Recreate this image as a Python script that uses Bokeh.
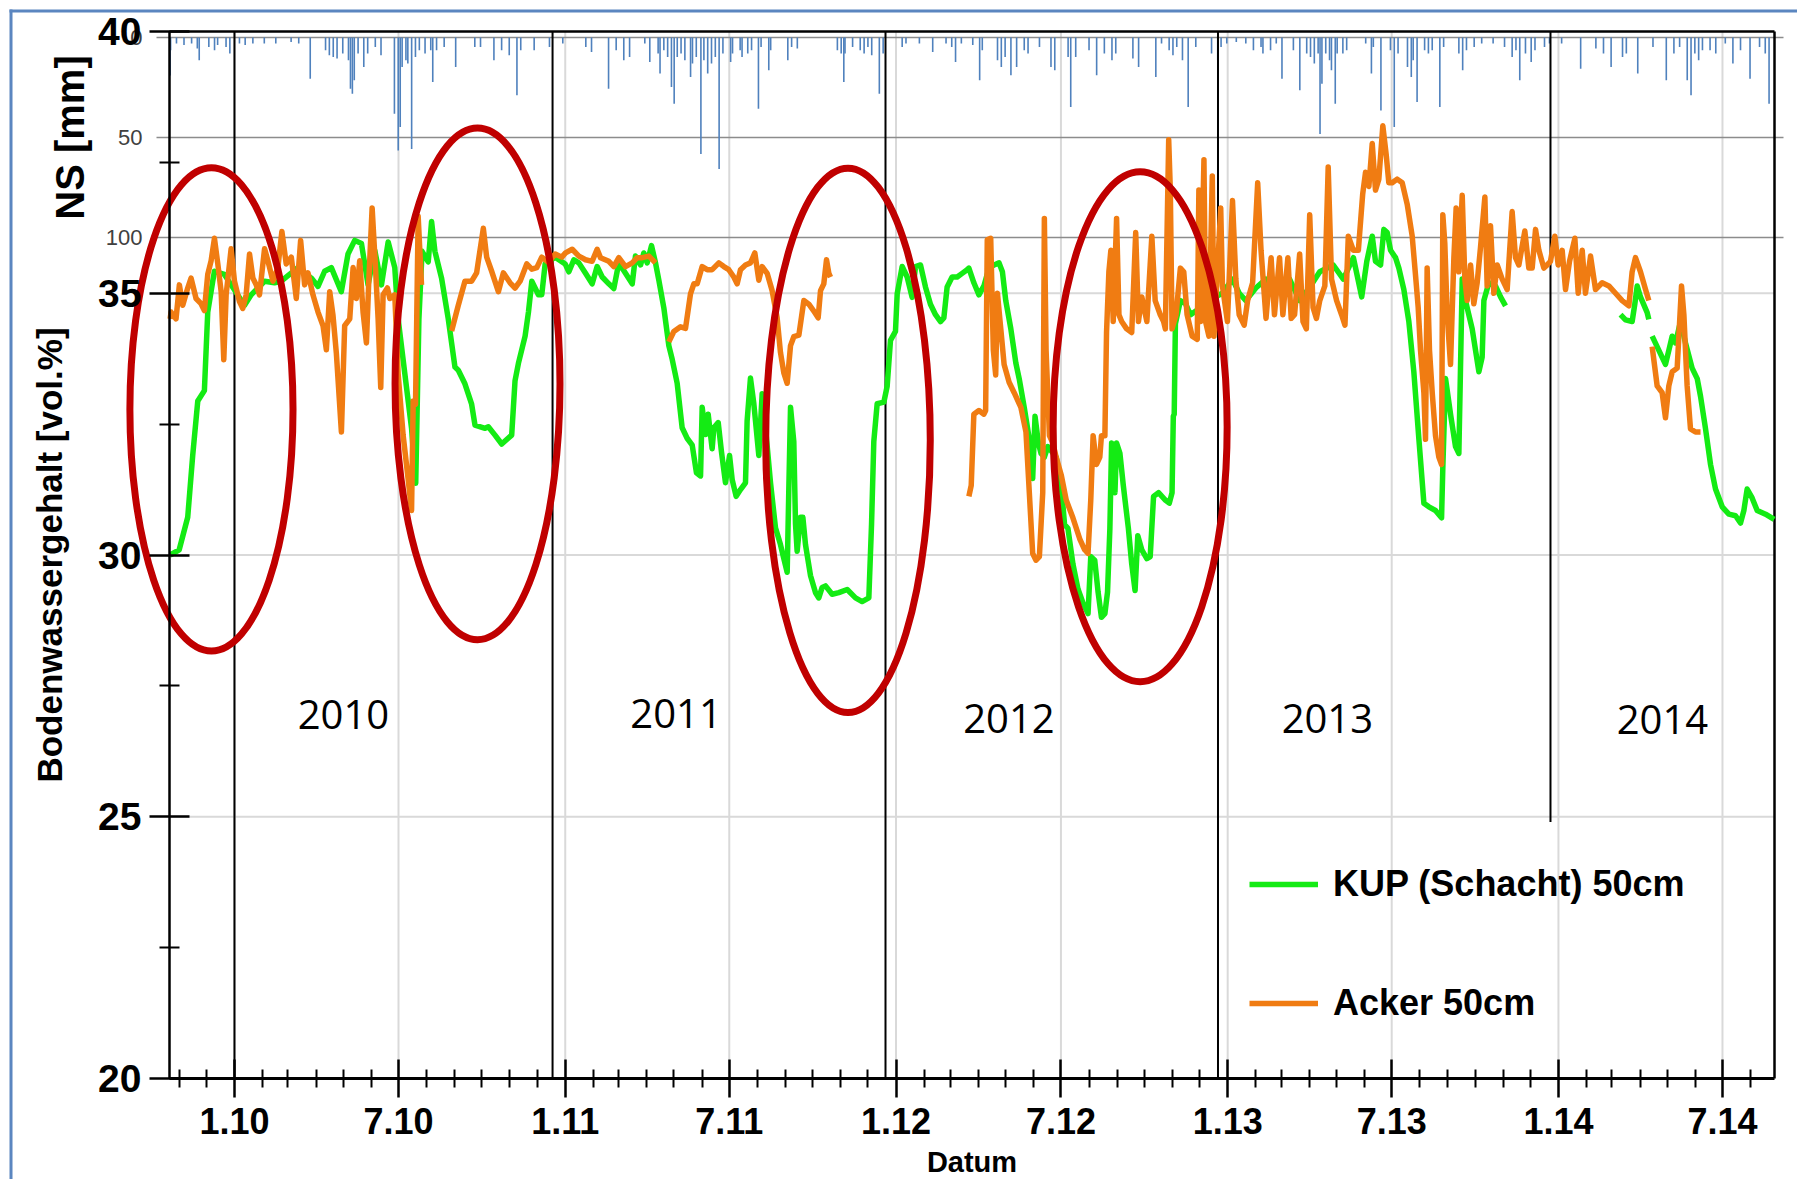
import math
import pandas as pd
from bokeh.plotting import figure
from bokeh.models import (Range1d, LinearAxis, FixedTicker, Legend, LegendItem, ColumnDataSource)
from bokeh.core.properties import value
from bokeh.embed import file_html
from bokeh.resources import INLINE

NaN = float("nan")
BASE = pd.Timestamp("2010-01-01")   # day 0 of all x values below

# ---------------- data (x = days since 2010-01-01) ----------------
kup_day = [-71, -61, -51.6, -46.1, -40.5, -33.2, -29.5, -24, -22.1, -11.1, -3.7, 11.1, 18.4, 33.2,
           44.2, 51.6, 70, 84.8, 92.2, 99.5, 106.9, 117.9, 125.3, 132.7, 140.1, 147.4, 154.8, 162.2,
           169.6, 176.9, 180.6, 188, 195.4, 200, 203.5, 207, 213.8, 217.5, 221.2, 228.5, 235.9,
           243.3, 247, 254.3, 261.7, 265.4, 276.5, 280.1, 287.5, 294.9, 305.9, 309.6, 313.3, 320.7,
           324.4, 328.1, 335.4, 339.1, 342.8, 353.9, 364.9, 369, 374.5, 380, 387.4, 394.7, 400.2,
           405.8, 413.1, 418.6, 424.1, 431.5, 438.9, 442.5, 448.1, 451.7, 455.4, 460.2, 464.6,
           468.3, 473.8, 479.3, 483, 488.5, 494, 499.5, 505.1, 509.8, 514.3, 516.1, 519.8, 522.7,
           527.1, 529, 533.8, 537.4, 541.8, 546.3, 549.2, 553.6, 558.4, 563.9, 565.7, 569.4, 573.1,
           578.6, 582.3, 586, 591.5, 597, 602.5, 606.2, 609.9, 611.7, 613.6, 617.2, 619.1, 620.9,
           624.6, 627.2, 630.1, 635.6, 641.2, 644.8, 648.5, 652.2, 659.5, 666.9, 676.1, 685.3,
           692.6, 700, 703, 705.5, 709.2, 716.6, 720.2, 723.9, 729.4, 731.3, 736.8, 742.3, 747.8,
           751.5, 757, 762.5, 768, 773.6, 779.1, 782.8, 786.4, 791.9, 797.5, 803, 808.5, 810.4,
           815.9, 821.5, 827, 832.6, 838.2, 843.7, 847.4, 851.1, 856.7, 862.2, 865.9, 871.5, 877.1,
           880.8, 883.4, 887.1, 890, 893.7, 897.5, 906.7, 912.3, 916, 919.7, 925.2, 930.8, 936.4,
           941.9, 944.9, 949.3, 953, 956.7, 960.5, 963.4, 966, 967.9, 971.6, 973.4, 977.1, 980.8,
           986.4, 990.1, 993.8, 996.8, 1001.2, 1006.8, 1010.5, 1014.2, 1019.7, 1027.2, 1031.6,
           1034.6, 1036, 1037, 1038.3, 1043.8, 1049.4, 1055, 1064, 1079, 1090, 1101.3, 1108.7,
           1116.1, 1127, 1138.3, 1153, 1164.3, 1175.4, 1186, 1197.6, 1212.5, 1223.6, 1234.7,
           1243.9, 1249.5, 1255.5, 1259.1, 1264.7, 1268.3, 1272, 1275.7, 1281.2, 1284.9, 1290.4,
           1295.9, 1301.4, 1307, 1312.5, 1318, 1325.3, 1332, 1333.4, 1336.4, 1341.9, 1347.4,
           1351.1, 1352.9, 1354.8, 1358.4, 1365.8, 1373.2, 1376.8, 1378.7, 1384.2, 1391.5, 1397.1,
           1402.6, 1466, 1529.5, 1535, 1542.3, 1545.3, 1547.9, 1551.5, 1558.9, 1560.7, 1562.5,
           1564.4, 1571.8, 1579.1, 1582.8, 1586.5, 1590.2, 1595.7, 1601.2, 1608.5, 1614.1, 1617.8,
           1623.3, 1628.8, 1634.3, 1641.7, 1649, 1656.4, 1661.9, 1665.6, 1669.2, 1674.7, 1680.3,
           1689.5, 1699]
kup_val = [30.0, 30.1, 30.72, 31.9, 32.94, 33.14, 34.64, 35.23, 35.42, 35.36, 35.16, 34.77, 34.97, 35.23,
           35.2, 35.23, 35.49, 35.29, 35.13, 35.42, 35.49, 35.03, 35.75, 36.01, 35.95, 35.16, 35.82, 35.16,
           35.98, 35.49, 34.51, 33.46, 32.42, 31.37, 34.5, 35.8, 35.6, 36.37, 35.8, 35.29, 34.51,
           33.59, 33.53, 33.27, 32.88, 32.48, 32.42, 32.45, 32.29, 32.12, 32.29, 33.33, 33.66, 34.18,
           34.64, 35.23, 34.97, 34.97, 35.56, 35.69, 35.56, 35.41, 35.64, 35.58, 35.38, 35.18, 35.51,
           35.31, 35.18, 35.09, 35.58, 35.38, 35.18, 35.71, 35.54, 35.77, 35.58, 35.91, 35.58,
           35.25, 34.72, 34.0, 33.74, 33.28, 32.43, 32.23, 32.1, 31.57, 31.51, 32.82, 32.3, 32.69,
           32.03, 32.43, 32.53, 31.97, 31.38, 31.9, 31.44, 31.12, 31.25, 31.38, 32.56, 33.38, 32.89,
           31.9, 33.08, 32.43, 31.38, 30.52, 30.2, 29.93, 29.67, 31.25, 32.82, 32.17, 30.59, 30.07,
           30.72, 30.72, 30.2, 29.61, 29.28, 29.18, 29.38, 29.41, 29.25, 29.28, 29.34, 29.18,
           29.11, 29.18, 30.59, 32.17, 32.89, 32.92, 33.22, 34.1, 34.27, 34.99, 35.51, 35.31, 34.92,
           35.51, 35.54, 35.12, 34.79, 34.59, 34.46, 34.53, 35.12, 35.31, 35.31, 35.38, 35.45, 35.48,
           35.2, 34.97, 35.14, 35.48, 35.54, 35.58, 35.41, 34.86, 34.32, 33.67, 33.37, 32.82, 32.21,
           31.46, 32.65, 32.14, 31.94, 31.87, 32.07, 31.87, 31.33, 30.58, 30.51, 29.83, 29.35, 29.08,
           28.88, 29.97, 29.9, 29.29, 28.81, 28.88, 29.29, 30.51, 32.14, 31.19, 32.14, 31.94, 31.33,
           30.51, 29.83, 29.32, 30.37, 30.1, 29.93, 29.97, 31.12, 31.19, 31.05, 30.99,
           31.19, 32.65, 32.69, 34.42, 34.86, 34.8, 34.59, 34.7, 34.9, 35.0, 35.27, 35.0,
           34.86, 35.1, 35.27, 35.1, 35.27, 34.86, 35.1, 35.41, 35.54, 35.27, 35.68,
           34.93, 35.61, 36.09, 35.61, 35.54, 36.22, 36.16, 35.82, 35.68, 35.48, 35.07,
           34.46, 33.5, 32.21, 30.99, 30.92, 30.85, 30.71, 31.67, 33.37, 32.69, 32.07,
           31.94, 33.57, 35.27, 34.86, 34.32, 33.5, 33.78, 34.86, 35.2, 35.14, 34.93,
           34.76, NaN, 34.59, 34.49, 34.46, 34.8, 35.14, 34.93, 34.63, 34.5, NaN,
           34.18, 33.91, 33.64, 33.91, 34.18, 34.05, 34.46, 34.05, 33.57, 33.37, 33.03,
           32.41, 31.73, 31.26, 30.92, 30.78, 30.75, 30.61, 30.85, 31.26, 31.09, 30.85,
           30.78, 30.68]

acker_day = [-71, -70, -64.5, -60.8, -57.1, -51.6, -47.9, -42.4, -36.9, -33.2, -29.5, -25.8, -22.1,
             -18.4, -14.7, -11.8, -9.2, -3.7, 0, 5.5, 9.2, 12.9, 16.6, 20.3, 24, 27.6, 33.2, 36.9,
             42.4, 47.9, 52.3, 57.1, 62.7, 68.2, 73, 77.4, 81.1, 86.6, 92.2, 97.7, 101.4, 105.1,
             108.7, 112.4, 118, 121.6, 127.2, 130.9, 134.5, 138.2, 141.9, 145.6, 148.2, 151.9,
             155.6, 158.5, 161.4, 164, 168.8, 171.4, 176.9, 180.6, 186.1, 191.7, 195.4, 197.2,
             199.8, 202.7, 206.4, 220, 239.6, 247, 254.3, 261.7, 267.2, 274.6, 278.3, 283.8, 291.2,
             296.7, 304.1, 309.6, 315.2, 322.5, 328.1, 333.6, 339.1, 346.5, 353.9, 361.2, 365.3,
             372.7, 380, 387.4, 394.7, 400.2, 403.9, 413.1, 418.6, 424.1, 431.5, 438.9, 444.4,
             449.9, 457.3, 464.6, 470, 479.3, 484.8, 492.2, 497.7, 503.2, 506.9, 510.6, 516.1,
             521.6, 527.1, 534.5, 540, 545.5, 551, 554.7, 558.4, 563.9, 569.4, 574.2, 578.6, 582.3,
             587.8, 593.3, 598.8, 602.5, 606.2, 609.9, 613.6, 617.2, 622.8, 628.3, 633.8, 639.3,
             644.1, 646.7, 650.3, 653.3, 655.9, 657.7, 700, 810.4, 813, 815.9, 821.5, 827, 828.9,
             830.7, 834.5, 837.4, 840, 841.9, 845.6, 849.3, 854.8, 860.4, 867.8, 873.4, 877.1, 880.8,
             884.5, 888.2, 891.9, 893.7, 895.6, 899.3, 903, 906.7, 912.3, 917.8, 925.2, 932.7, 938.2,
             941.9, 944.9, 947.5, 951.2, 954.9, 956.7, 960.5, 962.3, 964.9, 967.1, 969.7, 973.4,
             976, 979, 984.5, 990.1, 994.5, 997.5, 1001.2, 1006.8, 1012.3, 1016, 1021.6, 1025.3,
             1027.2, 1030.9, 1032.7, 1034.6, 1039, 1043.8, 1047.5, 1051.2, 1056.8, 1062.4, 1064.2,
             1066.1, 1069.8, 1071.6, 1075.3, 1079, 1080.9, 1088.3, 1090.2, 1095.7, 1101.3, 1105,
             1108.7, 1114.2, 1118, 1123.5, 1129.1, 1132.8, 1138.3, 1143.9, 1147.6, 1153.2, 1156.9,
             1162.4, 1166.1, 1169.8, 1175.4, 1179.1, 1182.8, 1186.5, 1190.2, 1193.9, 1197.6,
             1203.2, 1206.9, 1210.6, 1216.2, 1221.7, 1225.4, 1229.1, 1234.7, 1240.2, 1245, 1248.1,
             1251.8, 1255.5, 1259.1, 1262.8, 1267.2, 1270.9, 1273.8, 1277.5, 1283, 1288.6, 1294.1,
             1299.6, 1303.3, 1306.2, 1308.8, 1312.5, 1314.3, 1316.1, 1318.7, 1321.7, 1325.3, 1329,
             1332, 1333.4, 1335.6, 1338.2, 1341.9, 1345.6, 1348.1, 1351.1, 1354.8, 1357.7, 1360.3,
             1364, 1367.6, 1371.3, 1375, 1379.8, 1382.3, 1386, 1389.7, 1393.4, 1398.9, 1404.4,
             1409.9, 1413.6, 1417.3, 1423.9, 1428.3, 1432, 1435.7, 1439.4, 1444.9, 1448.5, 1452.2,
             1457, 1460.7, 1465.1, 1468.8, 1473.2, 1479.1, 1482.8, 1487.2, 1490.8, 1496.4, 1501.9,
             1509.2, 1516.6, 1524, 1531.3, 1538.7, 1542.3, 1546, 1551.5, 1557.1, 1560.7, 1562.5,
             1564.4, 1569.9, 1575.4, 1579.1, 1582.8, 1586.5, 1592, 1596.8, 1599.4, 1603, 1606.7,
             1612.2, 1617.8]
acker_val = [34.51, 34.64, 34.51, 35.16, 34.77, 35.1, 35.29, 34.9, 34.8, 34.67, 35.36, 35.62, 36.05,
             35.56, 35.03, 33.73, 34.97, 35.85, 35.23, 34.84, 34.71, 34.97, 35.75, 35.29, 35.16, 34.97, 35.85, 35.62,
             35.23, 35.49, 36.18, 35.56, 35.69, 34.9, 36.01, 35.16, 35.39, 34.97, 34.64, 34.38, 33.92, 35.03,
             34.58, 33.86, 32.35, 34.38, 34.51, 35.49, 34.9, 35.62, 34.64, 34.05, 35.23, 36.63,
             35.49, 34.51, 33.2, 34.97, 35.1, 34.9, 34.97, 33.46, 32.29, 31.44, 30.85, 32.94,
             32.88, 36.47, 35.16, NaN, 34.28, 34.77, 35.23, 35.23, 35.39, 36.24, 35.69, 35.42, 35.03,
             35.39, 35.2, 35.1, 35.23, 35.56, 35.46, 35.49, 35.69, 35.59, 35.75, 35.69, 35.77,
             35.84, 35.71, 35.64, 35.61, 35.84, 35.68, 35.61, 35.51, 35.68, 35.51, 35.58, 35.68,
             35.68, 35.71, 35.58, NaN, 34.07, 34.27, 34.36, 34.33, 34.99, 35.18, 35.18, 35.51,
             35.45, 35.45, 35.58, 35.51, 35.45, 35.31, 35.18, 35.45, 35.54, 35.58, 35.77, 35.25, 35.51,
             35.38, 35.05, 34.53, 33.87, 33.48, 33.28, 34.0, 34.17, 34.2, 34.86, 34.79, 34.66,
             34.53, 35.05, 35.18, 35.64, 35.38, 35.31, NaN, 31.12, 31.33, 32.69, 32.76, 32.69, 32.76,
             36.02, 36.05, 33.91, 33.44, 35.0, 34.32, 33.64, 33.3, 33.1, 32.82, 32.35, 31.19, 30.03,
             29.9, 29.97, 31.19, 36.43, 33.91, 32.28, 32.14, 31.87, 31.53, 31.05, 30.71, 30.31, 30.1,
             30.03, 31.05, 32.28, 31.73, 31.87, 32.28, 32.28, 34.25, 35.41, 35.82, 34.46, 36.43,
             34.59, 34.46, 34.32, 34.25, 36.16, 34.46, 34.93, 34.46, 36.09, 34.86, 34.59, 34.46,
             34.32, 37.93, 36.97, 34.32, 34.59, 35.48, 35.41, 34.59, 34.18, 34.12, 36.97,
             34.46, 37.55, 34.46, 34.18, 37.24, 34.18, 36.63, 35.14, 34.46, 36.77, 35.27,
             34.59, 34.39, 34.86, 35.2, 37.11, 35.82, 34.52, 35.68, 34.59, 35.68, 34.59,
             35.68, 34.52, 34.59, 35.75, 34.46, 34.32, 36.5, 34.73, 34.52, 34.86,
             35.14, 37.41, 35.27, 34.86, 34.59, 34.39, 36.09, 35.82, 35.82, 36.9, 37.31,
             37.04, 37.86, 36.97, 37.18, 38.2, 37.65, 37.11, 37.11, 37.18, 37.11, 36.7,
             36.09, 35.34, 34.73, 33.91, 33.1, 32.21, 35.48, 33.91, 33.1, 32.28, 31.87,
             31.73, 36.5, 35.95, 34.59, 33.64, 35.68, 36.63, 35.41, 36.87, 35.27, 34.86,
             35.54, 34.8, 35.2, 35.88, 36.84, 35.14, 36.29, 35.0, 35.54, 35.27, 35.07,
             36.56, 35.68, 35.54, 36.19, 35.48, 35.48, 36.22, 35.82, 35.48, 35.54, 35.61,
             36.09, 35.54, 35.82, 35.07, 35.61, 36.05, 35.0, 35.82, 35.0, 35.71, 35.07,
             35.2, 35.14, 35.0, 34.86, 34.76, 35.41, 35.68, 35.41, 35.07, 34.86, NaN,
             33.98, 33.23, 33.1, 32.62, 33.23, 33.5, 33.57, 35.14, 34.59, 33.23, 32.41,
             32.35, 32.35]

prec_day = [-71, -70.5, -64, -55.7, -47.3, -41, -38.9, -28.3, -22, -18.6, -9.3, -5.1, 5.5, 11.8, 20.3,
            32.9, 45.6, 62.5, 70.9, 83.6, 100.5, 104.7, 109, 113.2, 119.5, 125.8, 128, 130.1, 132.2,
            136.4, 142.7, 147, 155.4, 161.7, 176.5, 180.7, 182.9, 185, 189.2, 191.3, 195.5, 199.7,
            204, 210.3, 216.6, 218.8, 223, 231.4, 244.1, 265.2, 271.5, 286.3, 294.8, 303.2, 311.7,
            315.9, 330.7, 347.6, 362.3, 387.7, 394, 412.8, 421.2, 429.6, 436, 452.8, 458.3, 467.5,
            469.6, 473.8, 478, 482.2, 485.2, 488.6, 492.8, 497, 503.3, 505.4, 509.6, 514.7, 518,
            522.2, 526.4, 530.6, 534.8, 539, 547.5, 549.6, 558, 560.1, 566.4, 570.6, 578.2, 581.1,
            589.6, 591.7, 610.6, 614.8, 621.1, 665.3, 669.5, 672.4, 673.7, 682.1, 690.5, 694.8, 699,
            703.2, 711.6, 715.8, 736.8, 741, 755.8, 770.5, 785.2, 791.5, 795.7, 802.1, 814.7, 822.3,
            825.2, 842, 846.2, 850.4, 856.8, 863.1, 871.5, 875.7, 888.3, 901, 905.2, 919.9, 922.8,
            928.3, 943, 951.4, 959.9, 968.3, 972.5, 991.4, 997.7, 1016.7, 1023, 1031.4, 1035.6,
            1039.8, 1046.1, 1052.4, 1060.8, 1078.2, 1085, 1088.7, 1095, 1105.5, 1116, 1124.4, 1132.8,
            1134.9, 1143.3, 1149.6, 1155.9, 1168.5, 1175.6, 1183.2, 1187.4, 1191.6, 1195.8, 1197.9,
            1200, 1204.2, 1208.4, 1210.5, 1214.7, 1216.8, 1223.1, 1227.3, 1248.3, 1254.6, 1256.7,
            1265.1, 1275.6, 1279.8, 1284, 1294.4, 1298.6, 1300.7, 1305, 1313.3, 1317.5, 1321.7,
            1330.1, 1334.3, 1351.1, 1355.3, 1359.5, 1368, 1376.3, 1388.9, 1401.5, 1409.9, 1414.1,
            1418.3, 1424.6, 1430.9, 1435.1, 1445.6, 1451.1, 1464.5, 1485.5, 1502.3, 1510.7, 1519.1,
            1531.7, 1535.9, 1548.5, 1565.3, 1580, 1588.4, 1594.7, 1603.1, 1607.3, 1611.5, 1615.7,
            1619.9, 1628.3, 1634.6, 1645.1, 1653.5, 1661.9, 1672.4, 1682.9, 1689.2, 1693.4]
prec_mm = [19, 6.4, 3, 3.8, 3, 5.5, 11.4, 4.7, 6.4, 3.8, 4.7, 8, 3, 3.8, 3,
           3, 3, 2.2, 3, 20.6, 6.4, 8.9, 9.7, 10.5, 8, 11.4, 25.6, 28.1, 21.4,
           8, 14.7, 8, 4.7, 8.9, 38.1, 56.5, 44.8, 14.7, 11.4, 13, 55.7, 9.7,
           6.4, 8, 6.4, 22.2, 6.4, 4.7, 14.7, 4.7, 4.7, 11.4, 6.4, 8.9, 28.9,
           6.4, 6.4, 4.7, 3, 4.7, 7.2, 25.6, 6.4, 11.4, 9.7, 3, 12.2, 8,
           18, 6.4, 9.7, 24.7, 33.1, 9.7, 8, 11.4, 19.7, 13, 9.7, 58.2, 11.4,
           18, 13, 9.7, 65.7, 8, 12.2, 8, 6.4, 9.7, 8, 6.4, 35.6, 4.7,
           16.4, 6.4, 11.4, 4.7, 5.5, 6.4, 8, 22.2, 8, 4.7, 6.4, 8, 4.7,
           8.9, 28.1, 8, 4.7, 3, 3, 7.2, 3, 4.7, 12.2, 3, 3.8, 21.4,
           6.4, 11.4, 14.7, 9.7, 18.9, 14.7, 6.4, 8, 4.7, 14.7, 16.4, 9.7, 34.8,
           9.7, 6.4, 18.9, 8, 11.4, 8, 10.5, 14.7, 19.7, 3, 6.4, 8.9,
           4.7, 11.4, 34.8, 4.7, 8, 11.4, 4.7, 3, 2.2, 3, 6.4, 4.7,
           8, 6.4, 3, 20.6, 6.4, 26.4, 8, 9.7, 13, 8, 48.2,
           23.1, 8, 11.4, 16.4, 33.1, 8, 8, 6.4, 3, 18, 4.7,
           36.5, 6.4, 44.8, 8, 14.7, 19.7, 11.4, 32.3, 6.4, 8, 6.4,
           34.8, 4.7, 8, 16.4, 6.4, 4.7, 3, 3, 4.7, 9.7, 6.4,
           21.4, 8, 12.2, 6.4, 4.7, 3, 3, 15.6, 5.5, 8, 14.7,
           9.7, 8, 18, 4.7, 21.4, 8, 4.7, 21.4, 28.9, 8, 11.4,
           6.4, 6.4, 8, 3, 13, 6.4, 20.6, 4.7, 8, 33.1]

# axis ticks
tick_dates = ["2010-01-01", "2010-07-01", "2011-01-01", "2011-07-01", "2012-01-01",
              "2012-07-01", "2013-01-01", "2013-07-01", "2014-01-01", "2014-07-01"]
tick_labels = ["1.10", "7.10", "1.11", "7.11", "1.12", "7.12", "1.13", "7.13", "1.14", "7.14"]
y_ticks = [20, 25, 30, 35, 40]
y_minor = [22.5, 27.5, 32.5, 37.5]
y_grid = [25, 30, 35]
prec_ticks = [0, 50, 100]

# overlay annotations: year separators, year labels, red ellipses
sep_day = [0, 351, 718.4, 1085.3, 1452.2]
sep_bottom = [20, 20, 20, 20, 24.9]
year_text = ["2010", "2011", "2012", "2013", "2014"]
year_day = [120.3, 487.3, 854.6, 1206, 1575.7]
year_val = [26.95, 26.97, 26.88, 26.88, 26.86]
ell_day = [-25.4, 268.2, 677, 999.4]
ell_val = [32.78, 33.27, 32.19, 32.45]
ell_wdays = [180, 182, 181.6, 192]
ell_hval = [9.23, 9.78, 10.41, 9.74]

# plotted data extent (the visible chart box)
X0, X1 = -71.7, 1699.4
Y0, Y1 = 20, 40

# ---------------- layout constants (pixels) ----------------
W, H = 1797, 1179
BOX_L, BOX_R, BOX_T, BOX_B = 169, 1774, 31, 1078   # chart box on the canvas
ppd = (BOX_R - BOX_L) / (X1 - X0)
ppu = (BOX_B - BOX_T) / (Y1 - Y0)
PREC_PPMM = 2.0
PREC_ZERO_PX = 37
PAGE_FRAME_PX = 10.5     # blue page frame (top and left), as in the slide


def px_x(px):
    return X0 + (px - BOX_L) / ppd


def px_y(py):
    return Y1 - (py - BOX_T) / ppu


tick_days = [(pd.Timestamp(d) - BASE).days for d in tick_dates]
minor_days = [(d - BASE).days for d in pd.date_range("2009-11-01", "2014-08-01", freq="MS")
              if (d - BASE).days not in tick_days]

FONT = "Liberation Sans"
p = figure(width=W, height=H,
           x_range=Range1d(px_x(0), px_x(W)), y_range=Range1d(px_y(H), px_y(0)),
           x_axis_type=None, y_axis_type=None,
           output_backend="svg", toolbar_location=None,
           min_border_left=0, min_border_right=0, min_border_top=0, min_border_bottom=0,
           background_fill_color="white", border_fill_color="white",
           outline_line_color=None)
p.extra_y_ranges = {"precip": Range1d((H - PREC_ZERO_PX) / PREC_PPMM, -PREC_ZERO_PX / PREC_PPMM)}

# blue slide frame
p.segment(x0=[px_x(PAGE_FRAME_PX), px_x(PAGE_FRAME_PX - 1.5)],
          y0=[px_y(H), px_y(PAGE_FRAME_PX)],
          x1=[px_x(PAGE_FRAME_PX), px_x(W)],
          y1=[px_y(PAGE_FRAME_PX - 1.5), px_y(PAGE_FRAME_PX)],
          line_color="#5b86c0", line_width=3)

# grid lines
p.segment(x0=tick_days, y0=[Y0] * len(tick_days), x1=tick_days, y1=[Y1] * len(tick_days),
          line_color="#d9d9d9", line_width=2)
p.segment(x0=[X0] * len(y_grid), y0=y_grid, x1=[X1] * len(y_grid), y1=y_grid,
          line_color="#d9d9d9", line_width=2)
p.segment(x0=[X0 - 13 / ppd] * 3, y0=prec_ticks, x1=[X1 + 9 / ppd] * 3, y1=prec_ticks,
          y_range_name="precip", line_color="#8c8c8c", line_width=1.5)

# precipitation bars hanging from the top (inverted secondary axis)
psrc = ColumnDataSource(dict(day=prec_day, mm=prec_mm, zero=[0] * len(prec_day)))
p.segment(x0="day", y0="zero", x1="day", y1="mm", source=psrc, y_range_name="precip",
          line_color="#4f81bd", line_width=1.6)

# chart box (top and right edges)
p.segment(x0=[X0, X1], y0=[Y1, Y0], x1=[X1, X1], y1=[Y1, Y1], line_color="black", line_width=2.5)

# year separator lines
p.segment(x0=sep_day, y0=sep_bottom, x1=sep_day, y1=[Y1] * len(sep_day),
          line_color="black", line_width=2)

g = p.line(kup_day, kup_val, line_color="#14eb14", line_width=5.5, line_join="round")
o = p.line(acker_day, acker_val, line_color="#f07c12", line_width=5.5, line_join="round")

p.text(x=year_day, y=year_val, text=year_text, text_font=value("Open Sans"),
       text_font_size="40px", text_align="center", text_baseline="middle", text_color="black")

p.ellipse(x=ell_day, y=ell_val, width=ell_wdays, height=ell_hval,
          fill_color=None, line_color="#c00000", line_width=7)

# secondary (precipitation) axis labels and title
p.text(x=[X0] * 3, y=prec_ticks, text=[str(t) for t in prec_ticks], x_offset=-27,
       y_range_name="precip", text_align="right", text_baseline="middle",
       text_font=value(FONT), text_font_size="22px", text_color="#404040")
p.text(x=[X0], y=[50], text=["NS [mm]"], x_offset=-100, angle=math.pi / 2,
       y_range_name="precip", text_align="center", text_baseline="middle",
       text_font=value(FONT), text_font_size="40px", text_font_style="bold", text_color="black")

# primary axes
yaxis = LinearAxis(fixed_location=X0, bounds=(Y0, Y1),
                   ticker=FixedTicker(ticks=y_ticks, minor_ticks=y_minor),
                   axis_label="Bodenwassergehalt [vol.%]")
xaxis = LinearAxis(fixed_location=Y0, bounds=(X0, X1),
                   ticker=FixedTicker(ticks=tick_days, minor_ticks=minor_days),
                   major_label_overrides={float(d): l for d, l in zip(tick_days, tick_labels)},
                   axis_label="Datum")
for ax in (yaxis, xaxis):
    ax.axis_line_color = "black"
    ax.axis_line_width = 2.5
    ax.major_tick_line_color = "black"
    ax.major_tick_line_width = 2.5
    ax.minor_tick_line_color = "black"
    ax.minor_tick_line_width = 2
    ax.major_label_text_font = FONT
    ax.major_label_text_font_style = "bold"
    ax.major_label_text_color = "black"
    ax.axis_label_text_font = FONT
    ax.axis_label_text_font_style = "bold"
    ax.axis_label_text_color = "black"
yaxis.major_tick_in = 20
yaxis.major_tick_out = 20
yaxis.minor_tick_in = 10
yaxis.minor_tick_out = 10
yaxis.major_label_text_font_size = "39px"
yaxis.major_label_standoff = 8
yaxis.axis_label_text_font_size = "35px"
yaxis.axis_label_standoff = 26
xaxis.axis_line_width = 3
xaxis.major_tick_in = 19
xaxis.major_tick_out = 19
xaxis.minor_tick_in = 9
xaxis.minor_tick_out = 9
xaxis.major_label_text_font_size = "36px"
xaxis.major_label_standoff = 10
xaxis.axis_label_text_font_size = "29px"
xaxis.axis_label_standoff = 9
p.add_layout(yaxis, "left")
p.add_layout(xaxis, "below")

legend = Legend(items=[LegendItem(label="KUP (Schacht) 50cm", renderers=[g]),
                       LegendItem(label="Acker 50cm", renderers=[o])],
                location=(1249, 155), orientation="vertical",
                border_line_color=None, background_fill_alpha=0,
                padding=0, margin=0, spacing=77,
                glyph_width=69, glyph_height=40, label_height=40, label_standoff=15,
                label_text_font=FONT, label_text_font_size="36px",
                label_text_font_style="bold", label_text_color="black")
p.add_layout(legend)

open("out.html", "w").write(file_html(p, INLINE))
